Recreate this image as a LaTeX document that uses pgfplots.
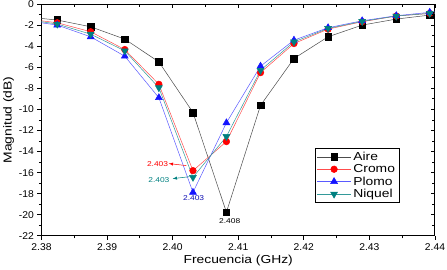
\documentclass[border=0pt]{standalone}
\usepackage{pgfplots}
\pgfplotsset{compat=1.18}
\usepackage{fontspec}
\setmainfont{Liberation Sans}[FakeStretch=1.2]
\newfontfamily\tickfont{Liberation Sans}[FakeStretch=1.05]
\definecolor{teal2}{RGB}{0,128,128}
\definecolor{blue2}{RGB}{20,20,255}
\pgfplotsset{
  common/.style={
    scale only axis,
    width=392pt, height=231pt,
    xmin=2.38, xmax=2.44, ymin=-22, ymax=0,
    xtick={2.38,2.39,...,2.44},
    ytick={-22,-20,...,0},
    minor x tick num=1, minor y tick num=1,
    major tick length=4pt, minor tick length=2.5pt,
    every tick/.style={black, line width=0.8pt},
    axis line style={line width=1pt},
  }
}
\begin{document}
\begin{tikzpicture}[x=1pt,y=1pt]
\begin{axis}[common, name=ax,
  xticklabels={2.38,2.39,2.40,2.41,2.42,2.43,2.44},
  tick align=outside,
  xtick pos=bottom, ytick pos=left,
  /pgf/number format/assume math mode=true,
  tick label style={font=\tickfont\fontsize{9.8}{10}\selectfont},
  xlabel={Frecuencia (GHz)}, ylabel={Magnitud (dB)},
  label style={font=\fontsize{11.5}{13}\selectfont},
  xlabel style={yshift=2pt}, ylabel style={yshift=-2pt},
  legend style={at={(0.694,0.377)}, anchor=north west, font=\fontsize{11.5}{12}\selectfont, draw=black, row sep=0pt, inner sep=2pt, nodes={inner xsep=2pt, inner ysep=1.3pt}},
  legend cell align=left,
  legend image code/.code={\draw[mark repeat=2,mark phase=2] plot coordinates {(0pt,0pt)(17pt,0pt)(34pt,0pt)};},
  every axis plot/.append style={line width=0.5pt},
]
\addplot[color=black!70, mark=square*, mark size=3.3pt, mark options={fill=black,draw=black}] coordinates {
(2.3773,-1.20)(2.3824,-1.52)(2.3875,-2.16)(2.3927,-3.33)(2.3979,-5.49)(2.4031,-10.29)(2.4082,-19.75)(2.4134,-9.62)(2.4185,-5.17)(2.4237,-3.11)(2.4289,-2.00)(2.4341,-1.43)(2.4392,-1.05)(2.4444,-0.72)};
\addlegendentry{Aire}
\addplot[color=red!70, mark=*, mark size=3.3pt, mark options={fill=red,draw=red}] coordinates {
(2.3773,-1.38)(2.3824,-1.78)(2.3875,-2.63)(2.3927,-4.32)(2.3979,-7.62)(2.4031,-15.81)(2.4082,-13.05)(2.4134,-6.51)(2.4185,-3.75)(2.4237,-2.38)(2.4289,-1.68)(2.4341,-1.14)(2.4392,-0.89)(2.4444,-0.64)};
\addlegendentry{Cromo}
\addplot[color=blue2!70, mark=triangle*, mark options={fill=blue2,draw=blue2}, mark size=4pt] coordinates {
(2.3773,-1.53)(2.3824,-2.00)(2.3875,-3.11)(2.3927,-4.95)(2.3979,-8.89)(2.4031,-17.87)(2.4082,-11.27)(2.4134,-5.90)(2.4185,-3.43)(2.4237,-2.25)(2.4289,-1.59)(2.4341,-1.11)(2.4392,-0.79)(2.4444,-0.47)};
\addlegendentry{Plomo}
\addplot[color=teal2!80, mark=triangle*, mark options={fill=teal2,draw=teal2,rotate=180}, mark size=4pt] coordinates {
(2.3773,-1.43)(2.3824,-1.90)(2.3875,-2.86)(2.3927,-4.44)(2.3979,-7.94)(2.4031,-16.44)(2.4082,-12.57)(2.4134,-6.29)(2.4185,-3.59)(2.4237,-2.32)(2.4289,-1.65)(2.4341,-1.14)(2.4392,-0.89)(2.4444,-0.64)};
\addlegendentry{Niquel}
\node[red, font=\fontsize{7}{8}\selectfont] at (axis cs:2.3977,-15.14) {2.403};
\draw[red, -latex, line width=0.5pt] (axis cs:2.4021,-15.33) -- (axis cs:2.3994,-15.14);
\node[teal2, font=\fontsize{7}{8}\selectfont] at (axis cs:2.3979,-16.67) {2.403};
\draw[teal2, -latex, line width=0.5pt] (axis cs:2.4026,-16.38) -- (axis cs:2.4000,-16.57);
\node[blue2!70!black, font=\fontsize{7}{8}\selectfont] at (axis cs:2.4032,-18.38) {2.403};
\node[black, font=\fontsize{7}{8}\selectfont] at (axis cs:2.4087,-20.57) {2.408};
\end{axis}
\begin{axis}[common, at={(ax.south west)}, anchor=south west,
  tick align=inside, xtick pos=top, ytick pos=right,
  xticklabels={}, yticklabels={}, axis line style={draw=none}]
\end{axis}
\coordinate (bl) at (current bounding box.south west);
\coordinate (R) at ([xshift=12pt,yshift=4pt]ax.north east);
\pgfresetboundingbox
\useasboundingbox (bl) rectangle (R);
\end{tikzpicture}
\end{document}
